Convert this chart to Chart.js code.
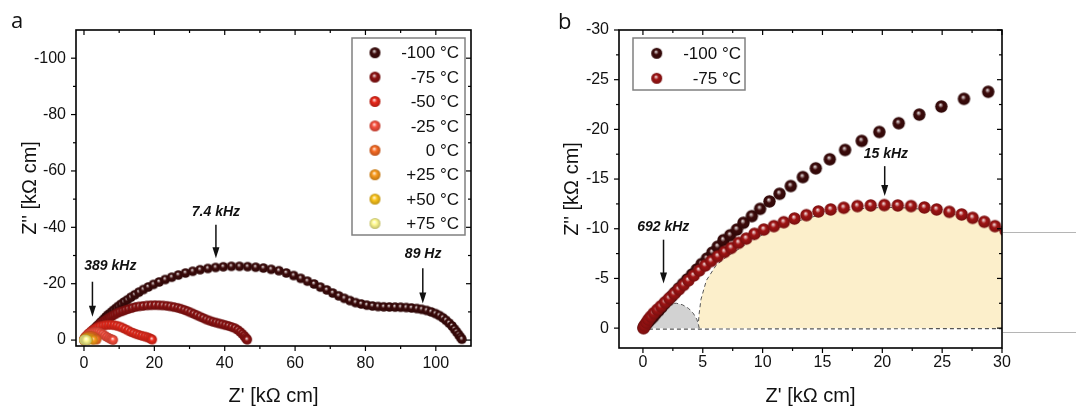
<!DOCTYPE html>
<html>
<head>
<meta charset="utf-8">
<script src="https://cdn.jsdelivr.net/npm/chart.js@4.4.0/dist/chart.umd.min.js"></script>
<style>
  html, body { margin: 0; padding: 0; background: #fff; }
  #wrap { position: relative; width: 1076px; height: 409px; overflow: hidden; }
  #chartA { position: absolute; left: 0; top: 0; }
  #chartB { position: absolute; left: 540px; top: 0; }
</style>
</head>
<body>
<div id="wrap">
  <canvas id="chartA" width="540" height="409"></canvas>
  <canvas id="chartB" width="536" height="409"></canvas>
</div>
<script>
// Nyquist data, [Z', Z''] in kOhm cm
const m100 = [[0.05,-0.05],[0.15,-0.25],[0.3,-0.45],[0.45,-0.65],[0.65,-0.9],[0.85,-1.15],[1.05,-1.45],[1.3,-1.75],
  [1.55,-2.1],[1.8,-2.45],[2.1,-2.8],[2.4,-3.2],[2.7,-3.6],[3.0,-4.0],[3.35,-4.45],[3.7,-4.9],[4.1,-5.4],[4.5,-5.9],
  [4.9,-6.45],[5.35,-7.0],[5.8,-7.6],[6.25,-8.2],[6.73,-8.85],[7.29,-9.35],[7.85,-9.92],[8.4,-10.6],[9.1,-11.27],
  [9.79,-12.0],[10.57,-12.75],[11.41,-13.52],[12.35,-14.3],[13.36,-15.2],[14.44,-16.08],[15.61,-16.99],[16.89,-17.93],
  [18.28,-18.84],[19.75,-19.74],[21.37,-20.62],[23.09,-21.49],[24.93,-22.3],[26.82,-23.07],[28.85,-23.78],
  [30.9,-24.4],[33.0,-24.95],[35.2,-25.4],[37.4,-25.75],[39.6,-26.0],[41.9,-26.15],[44.2,-26.15],[46.5,-26.05],
  [48.8,-25.85],[51.0,-25.55],[53.2,-25.1],[55.4,-24.6],[57.5,-23.8],[59.6,-22.9],[61.6,-21.9],[63.5,-20.9],
  [65.4,-19.9],[67.2,-18.8],[69.0,-17.8],[70.7,-16.7],[72.4,-15.7],[74.0,-14.8],[75.6,-14.0],[77.2,-13.3],
  [78.8,-12.8],[80.4,-12.4],[82.0,-12.1],[83.6,-11.9],[85.2,-11.8],[86.8,-11.75],[88.4,-11.7],[90.0,-11.65],
  [91.6,-11.55],[93.1,-11.4],[94.6,-11.2],[96.0,-10.9],[97.4,-10.5],[98.7,-10.0],[99.9,-9.4],[101.0,-8.7],
  [102.0,-7.9],[102.9,-7.0],[103.8,-6.0],[104.6,-5.0],[105.3,-3.9],[105.9,-2.9],[106.5,-1.9],[107.0,-1.0],[107.4,-0.3]];
const m75 = [[0.05,0],[0.15,-0.25],[0.3,-0.55],[0.45,-0.85],[0.65,-1.15],[0.9,-1.5],[1.2,-1.85],[1.5,-2.2],
  [1.85,-2.6],[2.2,-3.0],[2.6,-3.45],[3.0,-3.9],[3.4,-4.35],[3.8,-4.8],[4.25,-5.3],[4.7,-5.8],[5.2,-6.3],[5.7,-6.75],
  [6.26,-7.23],[6.82,-7.67],[7.37,-8.07],[7.99,-8.58],[8.63,-9.01],[9.32,-9.49],[10.1,-9.92],[10.94,-10.26],
  [11.77,-10.66],[12.66,-11.03],[13.66,-11.37],[14.66,-11.74],[15.69,-11.94],[16.78,-12.11],[17.92,-12.28],
  [19.03,-12.34],[20.17,-12.38],[21.29,-12.34],[22.4,-12.28],[23.51,-12.14],[24.54,-11.94],[25.6,-11.7],
  [26.63,-11.44],[27.55,-11.1],[28.52,-10.7],[29.41,-10.26],[30.3,-9.8],[31.2,-9.3],[32.1,-8.8],[33.0,-8.3],
  [33.9,-7.8],[34.8,-7.3],[35.7,-6.9],[36.6,-6.5],[37.5,-6.2],[38.4,-5.9],[39.3,-5.6],[40.2,-5.3],[41.1,-5.0],
  [42.0,-4.6],[42.9,-4.2],[43.7,-3.6],[44.4,-2.9],[45.0,-2.2],[45.5,-1.5],[45.9,-0.9],[46.2,-0.4],[46.4,-0.1]];
const m50 = [[0.05,0],[0.2,-0.5],[0.45,-1.0],[0.75,-1.5],[1.1,-2.0],[1.5,-2.5],[2.0,-3.0],[2.5,-3.5],[3.1,-4.0],
  [3.8,-4.45],[4.5,-4.8],[5.3,-5.1],[6.1,-5.3],[6.9,-5.4],[7.7,-5.4],[8.5,-5.3],[9.3,-5.1],[10.1,-4.8],[10.9,-4.4],
  [11.7,-3.9],[12.5,-3.4],[13.3,-2.9],[14.1,-2.5],[14.9,-2.1],[15.7,-1.8],[16.5,-1.5],[17.3,-1.25],[18.0,-1.0],
  [18.6,-0.7],[19.1,-0.4],[19.4,-0.15]];
const m25 = [[0.05,0],[0.2,-0.5],[0.45,-1.0],[0.8,-1.5],[1.2,-2.0],[1.7,-2.4],[2.3,-2.7],[2.9,-2.85],[3.5,-2.9],
  [4.1,-2.8],[4.7,-2.5],[5.3,-2.1],[5.9,-1.6],[6.5,-1.1],[7.1,-0.7],[7.6,-0.4],[8.0,-0.2],[8.3,-0.05]];
const p0 = [[0.05,0],[0.2,-0.4],[0.45,-0.8],[0.8,-1.15],[1.2,-1.35],[1.6,-1.45],[2.0,-1.4],[2.4,-1.25],[2.8,-1.0],
  [3.1,-0.7],[3.4,-0.4],[3.6,-0.15]];
const p25 = [[0.05,0],[0.2,-0.3],[0.45,-0.6],[0.8,-0.8],[1.2,-0.85],[1.6,-0.75],[2.0,-0.55],[2.35,-0.3],[2.65,-0.05]];
const p50 = [[0.05,0],[0.25,-0.2],[0.5,-0.3],[0.75,-0.25],[1.0,-0.15],[1.2,-0.02]];
const p75 = [[0.05,0],[0.2,-0.08],[0.4,-0.1],[0.6,-0.05],[0.75,0]];

const seriesA = [m100, m75, m50, m25, p0, p25, p50, p75];
const namesA = ['-100 °C', '-75 °C', '-50 °C', '-25 °C', '0 °C', '+25 °C', '+50 °C', '+75 °C'];
const colorsA = ['#3d0b0b', '#8e1212', '#e8281a', '#f8503e', '#f86c24', '#fa9a1c', '#fcc41a', '#fffa90'];

// fitted arcs shaded in panel b
const arcGrey = [[0.6,-1.3],[0.9,-1.7],[1.3,-2.1],[1.8,-2.4],[2.3,-2.5],[2.8,-2.5],[3.3,-2.35],[3.8,-2.0],
  [4.2,-1.5],[4.5,-0.9],[4.65,-0.3],[4.7,0]];
const arcCream = [[4.6,0],[4.7,-1.5],[4.85,-2.9],[5.3,-4.8],[6.1,-6.3],[7.0,-7.2],[7.8,-7.8],[8.8,-8.6],[10,-9.4],
  [11.5,-10.2],[13,-10.8],[14.5,-11.3],[16,-11.7],[17.5,-11.95],[19,-12.1],[20.5,-12.15],[22,-12.1],[23.5,-11.95],
  [25,-11.7],[26.5,-11.3],[28,-10.8],[29,-10.35],[30,-9.7]];
const baseline = [[0.5,0.1],[30,0.05]];

// axis ticks
const xTicksA = [0, 20, 40, 60, 80, 100];
const yTicksA = [0, -20, -40, -60, -80, -100];
const xTicksB = [0, 5, 10, 15, 20, 25, 30];
const yTicksB = [0, -5, -10, -15, -20, -25, -30];

// frequency markers
const notesA = [
  {text: '389 kHz', tx: 7.5, ty: -26.3, x: 2.4, y1: -20.7, y2: -8.3},
  {text: '7.4 kHz', tx: 37.5, ty: -45.5, x: 37.5, y1: -40.9, y2: -29.0},
  {text: '89 Hz', tx: 96.4, ty: -30.5, x: 96.3, y1: -25.5, y2: -13.0}
];
const notesB = [
  {text: '692 kHz', tx: 1.7, ty: -10.2, x: 1.72, y1: -8.9, y2: -4.5},
  {text: '15 kHz', tx: 20.3, ty: -17.5, x: 20.2, y1: -16.3, y2: -13.3}
];

const FONT = "'Liberation Sans', Arial, sans-serif";

function mix(hex, to, t) {
  const a = parseInt(hex.slice(1), 16), b = parseInt(to.slice(1), 16);
  const ch = (v, s) => (v >> s) & 255;
  const m = s => Math.round(ch(a, s) + (ch(b, s) - ch(a, s)) * t);
  return 'rgb(' + m(16) + ',' + m(8) + ',' + m(0) + ')';
}

// shaded ball marker
function sphere(color, r) {
  const c = document.createElement('canvas');
  const s = Math.ceil(r * 2 + 2);
  c.width = c.height = s;
  const g = c.getContext('2d');
  const cx = s / 2, cy = s / 2;
  const grad = g.createRadialGradient(cx - r * 0.15, cy - r * 0.3, r * 0.05, cx, cy, r);
  grad.addColorStop(0, mix(color, '#ffffff', 0.85));
  grad.addColorStop(0.4, color);
  grad.addColorStop(1, mix(color, '#000000', 0.25));
  g.fillStyle = grad;
  g.beginPath(); g.arc(cx, cy, r, 0, Math.PI * 2); g.fill();
  return c;
}

const toXY = arr => arr.map(p => ({x: p[0], y: p[1]}));

function makeFrame(xt, yt, extra) {
  return {
    id: 'frame',
    afterDraw(chart) {
      const {ctx, chartArea: a, scales: {x, y}} = chart;
      ctx.save();
      ctx.strokeStyle = '#000';
      const line = (x1, y1, x2, y2) => { ctx.beginPath(); ctx.moveTo(x1, y1); ctx.lineTo(x2, y2); ctx.stroke(); };
      ctx.lineWidth = 1.2;
      const xs = xt[1] - xt[0], ys = yt[1] - yt[0];
      xt.forEach(v => {
        const p = x.getPixelForValue(v);
        line(p, a.bottom, p, a.bottom + 5); line(p, a.top, p, a.top + 5);
        const m = x.getPixelForValue(v + xs / 2);
        if (m < a.right - 1) { line(m, a.bottom, m, a.bottom + 3); line(m, a.top, m, a.top + 3); }
      });
      yt.forEach(v => {
        const p = y.getPixelForValue(v);
        line(a.left, p, a.left - 5, p); line(a.right, p, a.right - 5, p);
        const m = y.getPixelForValue(v + ys / 2);
        if (m > a.top + 1) { line(a.left, m, a.left - 3, m); line(a.right, m, a.right - 3, m); }
      });
      ctx.lineWidth = 1.6;
      ctx.strokeRect(a.left, a.top, a.right - a.left, a.bottom - a.top);
      if (extra) {
        ctx.strokeStyle = '#b5b5b5'; ctx.lineWidth = 1;
        extra.forEach(v => { const p = Math.round(y.getPixelForValue(v)) + 0.5; line(a.right + 1, p, chart.width, p); });
      }
      ctx.restore();
    }
  };
}

function makeNotes(list) {
  return {
    id: 'notes',
    afterDraw(chart) {
      const {ctx, scales: {x, y}} = chart;
      ctx.save();
      ctx.font = 'italic bold 14px ' + FONT;
      ctx.textAlign = 'center'; ctx.textBaseline = 'middle';
      ctx.fillStyle = '#111'; ctx.strokeStyle = '#111'; ctx.lineWidth = 1.5;
      list.forEach(n => {
        ctx.fillText(n.text, x.getPixelForValue(n.tx), y.getPixelForValue(n.ty));
        const px = x.getPixelForValue(n.x), p1 = y.getPixelForValue(n.y1), p2 = y.getPixelForValue(n.y2);
        ctx.beginPath(); ctx.moveTo(px, p1); ctx.lineTo(px, p2 - 8); ctx.stroke();
        ctx.beginPath(); ctx.moveTo(px - 3.5, p2 - 11); ctx.lineTo(px + 3.5, p2 - 11); ctx.lineTo(px, p2); ctx.closePath(); ctx.fill();
      });
      ctx.restore();
    }
  };
}

function makeLegend(g) {
  return {
    id: 'legendBox',
    afterDraw(chart) {
      const {ctx} = chart;
      ctx.save();
      ctx.fillStyle = '#fff';
      ctx.fillRect(g.left, g.top, g.right - g.left, g.bottom - g.top);
      ctx.strokeStyle = '#808080'; ctx.lineWidth = 1.5;
      ctx.strokeRect(g.left, g.top, g.right - g.left, g.bottom - g.top);
      ctx.font = '17px ' + FONT;
      ctx.fillStyle = '#111'; ctx.textAlign = 'right'; ctx.textBaseline = 'middle';
      chart.data.datasets.filter(d => d.label).forEach((d, i) => {
        const yy = g.row0 + i * g.gap;
        const img = sphere(d.ballColor, 5.5);
        ctx.drawImage(img, g.markerX - img.width / 2, yy - img.height / 2);
        ctx.fillText(d.label, g.textRight, yy + 1);
      });
      ctx.restore();
    }
  };
}

function makeLetter(t, x, y) {
  return {
    id: 'letter',
    afterDraw(chart) {
      const ctx = chart.ctx;
      ctx.save();
      ctx.font = "22px 'Open Sans', sans-serif";
      ctx.fillStyle = '#111'; ctx.textBaseline = 'alphabetic';
      ctx.fillText(t, x, y);
      ctx.restore();
    }
  };
}

function makeScales(o) {
  return {
    x: {
      type: 'linear', min: o.xMin, max: o.xMax,
      afterBuildTicks: s => { s.ticks = o.xTicks.map(v => ({value: v})); },
      afterFit: s => { s.height = o.xHeight; },
      grid: {display: false, drawTicks: false}, border: {display: false},
      ticks: {font: {family: FONT, size: 16}, color: '#111', padding: o.xPad, maxRotation: 0, autoSkip: false,
              callback: v => String(v)},
      title: {display: true, text: "Z' [kΩ cm]", font: {family: FONT, size: 20}, color: '#111',
              padding: {top: 0, bottom: 1}}
    },
    y: {
      type: 'linear', min: o.yMin, max: o.yMax, reverse: true,
      afterBuildTicks: s => { s.ticks = o.yTicks.map(v => ({value: v})); },
      afterFit: s => { s.width = o.yWidth; },
      grid: {display: false, drawTicks: false}, border: {display: false},
      ticks: {font: {family: FONT, size: 16}, color: '#111', padding: 10, autoSkip: false,
              callback: v => String(v)},
      title: {display: true, text: "Z'' [kΩ cm]", font: {family: FONT, size: 20}, color: '#111',
              padding: {top: o.yTitlePad, bottom: 0}}
    }
  };
}

// panel a
const dsA = seriesA.map((s, i) => ({
  label: namesA[i],
  data: toXY(s),
  ballColor: colorsA[i],
  pointStyle: sphere(colorsA[i], 4.8),
  pointRadius: 4.8,
  pointHoverRadius: 4.8,
  order: seriesA.length - i
}));

new Chart(document.getElementById('chartA'), {
  type: 'scatter',
  data: {datasets: dsA},
  options: {
    responsive: false, animation: false, devicePixelRatio: 1,
    layout: {padding: {left: 0, top: 30, right: 69, bottom: 0}},
    plugins: {legend: {display: false}, tooltip: {enabled: false}},
    scales: makeScales({xMin: -2.27, xMax: 110, yMin: -110, yMax: 2.1, xTicks: xTicksA, yTicks: yTicksA,
                        xHeight: 63, yWidth: 76, xPad: 8, yTitlePad: 18})
  },
  plugins: [makeFrame(xTicksA, yTicksA), makeNotes(notesA),
            makeLegend({left: 352, top: 38, right: 465, bottom: 235, row0: 52.7, gap: 24.4, markerX: 375, textRight: 459}),
            makeLetter('a', 11, 28)]
});

// panel b
const dsB = [
  {type: 'line', data: toXY(arcCream), borderColor: '#555', borderWidth: 1, borderDash: [4, 3],
   backgroundColor: '#fcefcb', fill: 'origin', pointRadius: 0, tension: 0, order: 6},
  {type: 'line', data: toXY(arcGrey), borderColor: '#555', borderWidth: 1, borderDash: [4, 3],
   backgroundColor: '#d2d2d2', fill: 'origin', pointRadius: 0, tension: 0, order: 5},
  {type: 'line', data: toXY(baseline), borderColor: '#555', borderWidth: 1.2, borderDash: [4, 3],
   fill: false, pointRadius: 0, order: 4},
  {label: namesA[0], data: toXY(m100), ballColor: colorsA[0], pointStyle: sphere(colorsA[0], 6.2),
   pointRadius: 6.2, pointHoverRadius: 6.2, order: 2},
  {label: namesA[1], data: toXY(m75), ballColor: '#a01414', pointStyle: sphere('#a01414', 6.2),
   pointRadius: 6.2, pointHoverRadius: 6.2, order: 1}
];

new Chart(document.getElementById('chartB'), {
  type: 'scatter',
  data: {datasets: dsB},
  options: {
    responsive: false, animation: false, devicePixelRatio: 1,
    layout: {padding: {left: 0, top: 30, right: 74, bottom: 0}},
    plugins: {legend: {display: false}, tooltip: {enabled: false}},
    scales: makeScales({xMin: -2, xMax: 30, yMin: -30, yMax: 2, xTicks: xTicksB, yTicks: yTicksB,
                        xHeight: 61, yWidth: 79, xPad: 5, yTitlePad: 20})
  },
  plugins: [makeFrame(xTicksB, yTicksB, [-9.7, 0.4]), makeNotes(notesB),
            makeLegend({left: 93, top: 38, right: 205, bottom: 90, row0: 53.3, gap: 25, markerX: 116.7, textRight: 201}),
            makeLetter('b', 18, 29)]
});
</script>
</body>
</html>
